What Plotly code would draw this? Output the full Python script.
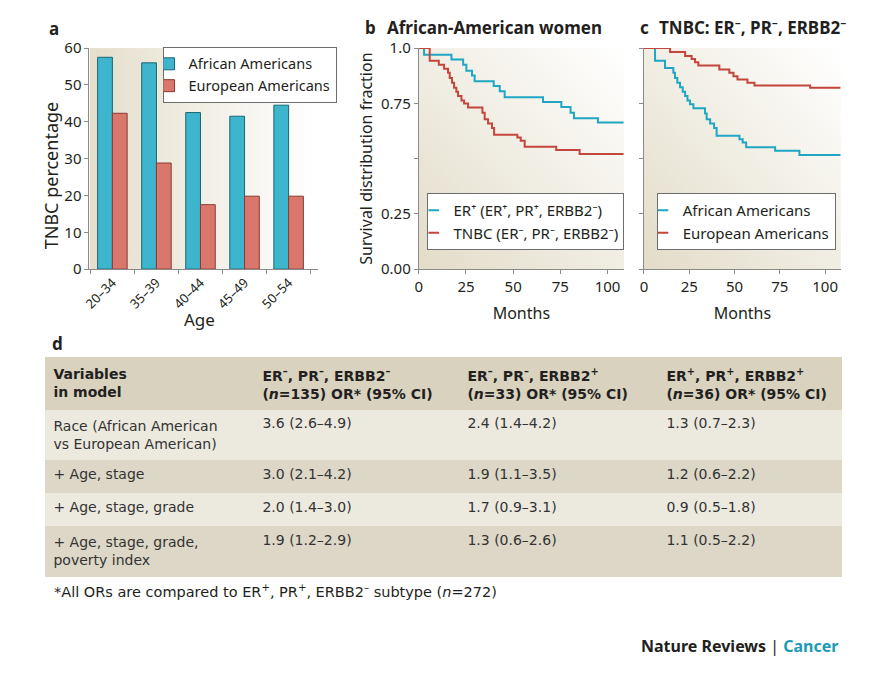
import base64
import plotly.graph_objects as go

# ---- panel a: TNBC percentage by age group
age_groups = ["20–34", "35–39", "40–44", "45–49", "50–54"]
tnbc_african = [57.5, 56.0, 42.5, 41.5, 44.5]
tnbc_european = [42.3, 28.8, 17.5, 19.8, 19.8]

# ---- panel b: African-American women, survival by subtype (Kaplan-Meier steps)
b_er_months = [0, 2.8, 17.3, 23.5, 25.2, 28.2, 29.6, 39.7, 42.9, 45.5, 65.8, 75.5, 80.4, 82.2, 94.9, 108.5]
b_er_surv = [1.0, 0.970, 0.948, 0.925, 0.898, 0.876, 0.850, 0.828, 0.805, 0.778, 0.756, 0.734, 0.708, 0.683, 0.663, 0.663]
b_tnbc_months = [0, 5.8, 10.6, 13.4, 15.5, 16.4, 17.6, 18.7, 19.9, 20.8, 22.6, 24.0, 26.1, 33.7,
                 34.9, 36.7, 38.8, 39.9, 52.2, 54.0, 56.1, 72.8, 85.2, 108.5]
b_tnbc_surv = [1.0, 0.943, 0.925, 0.907, 0.888, 0.865, 0.843, 0.820, 0.802, 0.783, 0.763, 0.749, 0.731, 0.708,
               0.678, 0.659, 0.638, 0.608, 0.596, 0.581, 0.554, 0.539, 0.521, 0.521]

# ---- panel c: TNBC survival by race
c_aa_months = [0, 6.1, 11.6, 16.2, 17.1, 18.4, 19.9, 21.4, 22.7, 24.0, 25.4, 27.3, 33.7, 34.6,
               36.5, 38.7, 40.1, 52.7, 54.5, 56.4, 72.4, 85.8, 108.5]
c_aa_surv = [1.0, 0.943, 0.910, 0.888, 0.865, 0.843, 0.823, 0.802, 0.783, 0.763, 0.746, 0.728, 0.704, 0.678,
             0.659, 0.638, 0.603, 0.588, 0.573, 0.551, 0.536, 0.516, 0.516]
c_ea_months = [0, 14.4, 22.7, 26.3, 28.2, 30.0, 41.6, 47.1, 49.4, 51.6, 57.1, 61.0, 91.7, 108.5]
c_ea_surv = [1.0, 0.982, 0.964, 0.951, 0.936, 0.921, 0.903, 0.888, 0.873, 0.858, 0.843, 0.831, 0.820, 0.820]

surv_ticks = [0, 0.25, 0.5, 0.75, 1.0]
surv_ticktext = ["0.00", "0.25", "", "0.75", "1.0"]
month_ticks = [0, 25, 50, 75, 100]

# ---- panel d: odds ratio table
table_header = [
    "<b>Variables<br>in model</b>",
    "<b>ER<sup>–</sup>, PR<sup>–</sup>, ERBB2<sup>–</sup><br>(<i>n</i>=135) OR* (95% CI)</b>",
    "<b>ER<sup>–</sup>, PR<sup>–</sup>, ERBB2<sup>+</sup><br>(<i>n</i>=33) OR* (95% CI)</b>",
    "<b>ER<sup>+</sup>, PR<sup>+</sup>, ERBB2<sup>+</sup><br>(<i>n</i>=36) OR* (95% CI)</b>",
]
model_vars = ["Race (African American<br>vs European American)", "+ Age, stage",
              "+ Age, stage, grade", "+ Age, stage, grade,<br>poverty index"]
or_triple_neg = ["3.6 (2.6–4.9)", "3.0 (2.1–4.2)", "2.0 (1.4–3.0)", "1.9 (1.2–2.9)"]
or_erbb2_pos = ["2.4 (1.4–4.2)", "1.9 (1.1–3.5)", "1.7 (0.9–3.1)", "1.3 (0.6–2.6)"]
or_triple_pos = ["1.3 (0.7–2.3)", "1.2 (0.6–2.2)", "0.9 (0.5–1.8)", "1.1 (0.5–2.2)"]

FONT = "Noto Sans"
TFONT = "DejaVu Sans"
TXT = "#231f20"
CYAN = "#1fa6c2"
RED = "#c4453c"
W, H = 883, 675


# target pixel positions -> paper fractions (small correction for how the page is shown)
def px_x(x):
    return ((x - 16.6) / 0.99) / W


def px_y(y):
    return 1 - ((y - 17.5) / 0.9745) / H


def gradient_uri(x1, y1, x2, y2, c0, c1):
    svg = ("<svg xmlns='http://www.w3.org/2000/svg' width='100' height='100' preserveAspectRatio='none'>"
           f"<defs><linearGradient id='g' x1='{x1}' y1='{y1}' x2='{x2}' y2='{y2}'>"
           f"<stop offset='0' stop-color='{c0}'/><stop offset='1' stop-color='{c1}'/>"
           "</linearGradient></defs><rect width='100' height='100' fill='url(#g)'/></svg>")
    return "data:image/svg+xml;base64," + base64.b64encode(svg.encode()).decode()


fig = go.Figure()

# bars (panel a)
fig.add_trace(go.Bar(x=age_groups, y=tnbc_african, name="African Americans",
                     marker=dict(color="#3db5cd", line=dict(color="#1b6675", width=1)),
                     xaxis="x", yaxis="y", legend="legend"))
fig.add_trace(go.Bar(x=age_groups, y=tnbc_european, name="European Americans",
                     marker=dict(color="#d9776d", line=dict(color="#8a3a32", width=1)),
                     xaxis="x", yaxis="y", legend="legend"))

# survival curves (panel b, c)
curves = [
    (b_er_months, b_er_surv, CYAN, "x2", "y2"),
    (b_tnbc_months, b_tnbc_surv, RED, "x2", "y2"),
    (c_aa_months, c_aa_surv, CYAN, "x3", "y3"),
    (c_ea_months, c_ea_surv, RED, "x3", "y3"),
]
for xs, ys, col, xa, ya in curves:
    fig.add_trace(go.Scatter(x=xs, y=ys, mode="lines", line=dict(color=col, width=2, shape="hv"),
                             showlegend=False, xaxis=xa, yaxis=ya))

# legend-only entries with short dash markers
legend_items = [
    ("ER⁺ (ER⁺, PR⁺, ERBB2⁻)", CYAN, "legend2", "x2", "y2"),
    ("TNBC (ER⁻, PR⁻, ERBB2⁻)", RED, "legend2", "x2", "y2"),
    ("African Americans", CYAN, "legend3", "x3", "y3"),
    ("European Americans", RED, "legend3", "x3", "y3"),
]
for name, col, leg, xa, ya in legend_items:
    fig.add_trace(go.Scatter(x=[None], y=[None], mode="markers", name=name,
                             marker=dict(symbol="line-ew", size=8, line=dict(color=col, width=2)),
                             legend=leg, xaxis=xa, yaxis=ya))

# table (panel d)
dark_row, light_row = "#dcd7c6", "#ece9df"
row_fills = [light_row, dark_row, light_row, dark_row]
fig.add_trace(go.Table(
    domain=dict(x=[px_x(46), px_x(842)], y=[px_y(600), px_y(357.7)]),
    columnwidth=[209, 205, 199, 183],
    header=dict(values=table_header, fill_color="#d8d2bf", align="left", height=33,
                font=dict(family=TFONT, size=14, color=TXT), line=dict(width=1, color="#d8d2bf")),
    cells=dict(values=[model_vars, or_triple_neg, or_erbb2_pos, or_triple_pos],
               fill_color=[row_fills], align="left", height=33,
               font=dict(family=TFONT, size=14, color="#333"),
               line=dict(width=1, color=[row_fills] * 4)),
))

axis_common = dict(showline=True, linecolor="#8a8a8a", linewidth=1, ticks="outside", ticklen=4,
                   tickcolor="#8a8a8a", showgrid=False, zeroline=False,
                   tickfont=dict(family=FONT, size=15, color=TXT),
                   title_font=dict(family=FONT, size=16, color=TXT))

ydom = [px_y(268.7), px_y(46.7)]
leg_common = dict(xanchor="left", yanchor="top", bgcolor="white", bordercolor="#6d6d6d",
                  borderwidth=1, itemwidth=30, indentation=-15,
                  font=dict(family=FONT, size=15, color=TXT))

fig.update_layout(
    width=W, height=H,
    margin=dict(l=0, r=0, t=0, b=0),
    paper_bgcolor="white", plot_bgcolor="rgba(0,0,0,0)",
    font=dict(family=FONT, color=TXT),
    barmode="group", bargap=0.33, bargroupgap=0,
    xaxis=dict(domain=[px_x(90), px_x(318)], range=[-0.52, 4.66], tickangle=-45, tickson="boundaries",
               **{**axis_common, "tickfont": dict(family=FONT, size=13, color=TXT)}),
    yaxis=dict(domain=ydom, range=[0, 60], dtick=10, **axis_common),
    xaxis2=dict(domain=[px_x(419), px_x(624)], range=[0, 108.7], tickvals=month_ticks,
                title=dict(text="Months", standoff=12), anchor="y2", **axis_common),
    yaxis2=dict(domain=ydom, range=[0, 1], tickvals=surv_ticks, ticktext=surv_ticktext,
                title=dict(text="Survival distribution fraction", standoff=4), anchor="x2", **axis_common),
    xaxis3=dict(domain=[px_x(644), px_x(840.7)], range=[0, 108.7], tickvals=month_ticks,
                title=dict(text="Months", standoff=12), anchor="y3", **axis_common),
    yaxis3=dict(domain=ydom, range=[0, 1], tickvals=surv_ticks, showticklabels=False,
                anchor="x3", **axis_common),
    legend=dict(x=px_x(163), y=px_y(45.5), **{**leg_common, "font": dict(family=FONT, size=14.5, color=TXT)}),
    legend2=dict(x=px_x(427.7), y=px_y(192.3), **leg_common),
    legend3=dict(x=px_x(656.7), y=px_y(192.3), **leg_common),
    images=[
        dict(source=gradient_uri(0, 0, 1, 0, "#e4decb", "#ffffff"), xref="x domain", yref="y domain",
             x=0, y=1, sizex=1, sizey=1, sizing="stretch", layer="below"),
        dict(source=gradient_uri(0, 1, 1, 0, "#e2dcc8", "#ffffff"), xref="x2 domain", yref="y2 domain",
             x=0, y=1, sizex=1, sizey=1, sizing="stretch", layer="below"),
        dict(source=gradient_uri(0, 1, 1, 0, "#e2dcc8", "#ffffff"), xref="x3 domain", yref="y3 domain",
             x=0, y=1, sizex=1, sizey=1, sizing="stretch", layer="below"),
    ],
)

# panel a axis titles (placed as in the original, slightly off-centre)
fig.add_annotation(text="TNBC percentage", x=px_x(51), y=px_y(175), xref="paper", yref="paper",
                   xanchor="center", yanchor="middle", textangle=-90, showarrow=False,
                   font=dict(family=FONT, size=18, color=TXT))
fig.add_annotation(text="Age", x=px_x(200), y=px_y(319), xref="paper", yref="paper",
                   xanchor="center", yanchor="middle", showarrow=False,
                   font=dict(family=FONT, size=17, color=TXT))

labels = [
    ("<b>a</b>", 48, 27),
    ("<b>b</b>", 363, 26),
    ("<b>African-American women</b>", 385, 26),
    ("<b>c</b>", 638, 26),
    ("<b>TNBC: ER⁻, PR⁻, ERBB2⁻</b>", 657, 26),
    ("<b>d</b>", 51, 343),
]
for text, x, y in labels:
    fig.add_annotation(text=text, x=px_x(x), y=px_y(y), xref="paper", yref="paper",
                       xanchor="left", yanchor="middle", showarrow=False,
                       font=dict(family=FONT, size=17, color=TXT))

fig.add_annotation(text="*All ORs are compared to ER<sup>+</sup>, PR<sup>+</sup>, ERBB2<sup>–</sup> subtype (<i>n</i>=272)",
                   x=px_x(53), y=px_y(592), xref="paper", yref="paper", xanchor="left", yanchor="middle",
                   showarrow=False, font=dict(family=TFONT, size=14.5, color=TXT))
fig.add_annotation(text="<b>Nature Reviews</b> | <b><span style='color:#1b9bb4'>Cancer</span></b>",
                   x=px_x(840), y=px_y(647), xref="paper", yref="paper", xanchor="right", yanchor="middle",
                   showarrow=False, font=dict(family=FONT, size=16, color=TXT))

fig.write_html("out.html")
